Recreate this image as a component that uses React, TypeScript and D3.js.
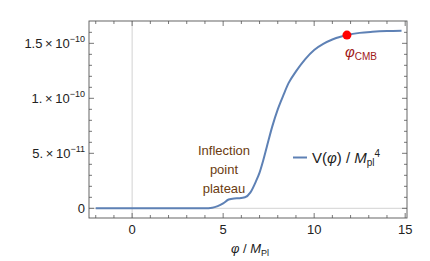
import React, { useEffect, useRef } from 'react';
import * as d3 from 'd3';

// curve values (phi in M_Pl, V in M_Pl^4)
const phiValues = [-2, 0, 2, 4, 4.4, 4.7, 5.0, 5.3, 5.6, 5.9, 6.2, 6.5, 6.8, 7.0, 7.2, 7.4, 7.7, 8.0, 8.3, 8.6, 9.0, 9.5, 10.0, 10.5, 11.0, 11.5, 11.8, 12.5, 13.2, 14, 14.8];
const potentialValues = [0, 0, 0, 0, 0.05e-11, 0.2e-11, 0.45e-11, 0.8e-11, 0.9e-11, 0.92e-11, 1.0e-11, 1.45e-11, 2.45e-11, 3.25e-11, 4.35e-11, 5.6e-11, 7.45e-11, 9.0e-11, 10.25e-11, 11.4e-11, 12.45e-11, 13.55e-11, 14.4e-11, 14.95e-11, 15.35e-11, 15.62e-11, 15.75e-11, 15.95e-11, 16.05e-11, 16.12e-11, 16.15e-11];

const cmbPoint = { phi: 11.8, v: 15.75e-11 };

const xTickValues = [0, 5, 10, 15];
const yTickValues = [0, 5e-11, 1e-10, 1.5e-10];
const yTickMantissa = ['0', '5.', '1.', '1.5'];
const yTickExponent = ['', '-11', '-10', '-10'];

const plateauLabel = ['Inflection', 'point', 'plateau'];

const FONT = '"Liberation Sans", Arial, sans-serif';

function App() {
    const ref = useRef<SVGSVGElement>(null);

    const width = 430;
    const height = 261;
    const margin = { top: 21, right: 23, bottom: 43, left: 89 };

    useEffect(() => {
        drawChart();
    }, []);

    function drawChart() {
        const svg = d3.select(ref.current);
        svg.selectAll('*').remove();

        const x = d3.scaleLinear().domain([-2.37, 15.1]).range([margin.left, width - margin.right]);
        const y = d3.scaleLinear().domain([-8.8e-12, 1.703e-10]).range([height - margin.bottom, margin.top]);

        const x0 = margin.left, x1 = width - margin.right;
        const y0 = height - margin.bottom, y1 = margin.top;

        // axes through origin
        svg.append('line').attr('x1', x(0)).attr('x2', x(0)).attr('y1', y0).attr('y2', y1)
            .attr('stroke', '#c8c8c8').attr('stroke-width', 0.8);
        svg.append('line').attr('x1', x0).attr('x2', x1).attr('y1', y(0)).attr('y2', y(0))
            .attr('stroke', '#c8c8c8').attr('stroke-width', 0.8);

        // frame ticks on all sides
        const frameColor = '#555';
        const ticks = svg.append('g').attr('stroke', frameColor).attr('stroke-width', 0.8);
        const xMinor = d3.range(-2, 16, 1);
        xMinor.forEach((t) => {
            const len = xTickValues.includes(t) ? 5 : 3;
            ticks.append('line').attr('x1', x(t)).attr('x2', x(t)).attr('y1', y0).attr('y2', y0 - len);
            ticks.append('line').attr('x1', x(t)).attr('x2', x(t)).attr('y1', y1).attr('y2', y1 + len);
        });
        const yMinor = d3.range(0, 17, 1).map((k) => k * 1e-11);
        yMinor.forEach((t, k) => {
            const len = k % 5 === 0 ? 5 : 3;
            ticks.append('line').attr('x1', x0).attr('x2', x0 + len).attr('y1', y(t)).attr('y2', y(t));
            ticks.append('line').attr('x1', x1).attr('x2', x1 - len).attr('y1', y(t)).attr('y2', y(t));
        });

        // frame
        svg.append('rect').attr('x', x0).attr('y', y1).attr('width', x1 - x0).attr('height', y0 - y1)
            .attr('fill', 'none').attr('stroke', frameColor).attr('stroke-width', 0.9);

        // x tick labels
        svg.append('g').selectAll('text').data(xTickValues).enter().append('text')
            .attr('x', (d) => x(d)).attr('y', y0 + 16)
            .attr('text-anchor', 'middle').attr('font-family', FONT).attr('font-size', 13)
            .attr('fill', '#222').text((d) => d);

        // y tick labels
        yTickValues.forEach((v, i) => {
            const t = svg.append('text').attr('x', x0 - 4).attr('y', y(v) + 4.5)
                .attr('text-anchor', 'end').attr('font-family', FONT).attr('font-size', 13).attr('fill', '#222');
            if (yTickExponent[i] === '') {
                t.text(yTickMantissa[i]);
            } else {
                t.append('tspan').text(yTickMantissa[i] + '\u2009\u00d7\u200910');
                t.append('tspan').attr('dy', -6).attr('font-size', 9).text('\u2212' + yTickExponent[i].slice(1));
            }
        });

        // x axis label
        const xl = svg.append('text').attr('x', 250).attr('y', 253).attr('text-anchor', 'middle')
            .attr('font-family', FONT).attr('font-size', 13).attr('fill', '#222');
        xl.append('tspan').attr('font-style', 'italic').text('\u03c6');
        xl.append('tspan').text(' / ');
        xl.append('tspan').attr('font-style', 'italic').text('M');
        xl.append('tspan').attr('font-size', 9).attr('dy', 2.5).text('Pl');

        // curve
        const line = d3.line<number>()
            .x((d, i) => x(phiValues[i]))
            .y((d) => y(d))
            .curve(d3.curveMonotoneX);
        svg.append('path').datum(potentialValues).attr('d', line)
            .attr('fill', 'none').attr('stroke', '#5E81B5').attr('stroke-width', 2);

        // CMB point
        svg.append('circle').attr('cx', x(cmbPoint.phi)).attr('cy', y(cmbPoint.v)).attr('r', 4.5).attr('fill', '#ff0000');
        const cl = svg.append('text').attr('x', x(cmbPoint.phi) - 2).attr('y', 57)
            .attr('font-family', FONT).attr('font-size', 15).attr('fill', '#a01818').attr('text-anchor', 'start');
        cl.append('tspan').attr('font-style', 'italic').text('\u03c6');
        cl.append('tspan').attr('font-size', 10).attr('dy', 3).text('CMB');

        // plateau label
        svg.append('g').selectAll('text').data(plateauLabel).enter().append('text')
            .attr('x', 224).attr('y', (d, i) => 155 + i * 19)
            .attr('text-anchor', 'middle').attr('font-family', FONT).attr('font-size', 13)
            .attr('fill', '#6b3c10').text((d) => d);

        // legend
        svg.append('line').attr('x1', 293).attr('x2', 307).attr('y1', 157.5).attr('y2', 157.5)
            .attr('stroke', '#5E81B5').attr('stroke-width', 2);
        const lg = svg.append('text').attr('x', 312).attr('y', 163)
            .attr('font-family', FONT).attr('font-size', 15).attr('fill', '#222');
        lg.append('tspan').text('V(');
        lg.append('tspan').attr('font-style', 'italic').text('\u03c6');
        lg.append('tspan').text(') / ');
        lg.append('tspan').attr('font-style', 'italic').text('M');
        lg.append('tspan').attr('font-size', 10).attr('dy', 3).text('pl');
        lg.append('tspan').attr('font-size', 10).attr('dy', -9).text('4');
    }

    return (
        <svg ref={ref} width={width} height={height}
            style={{ position: 'absolute', left: 0, top: 0, background: '#fff' }} />
    );
}

export default App;
